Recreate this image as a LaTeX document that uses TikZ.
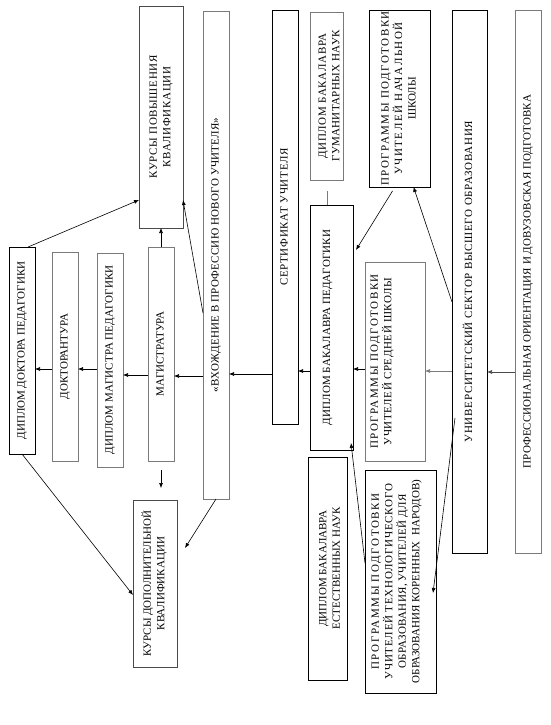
\documentclass[tikz,border=0pt]{standalone}
\usepackage{fontspec}
\usepackage{graphicx}
\setmainfont{Liberation Serif}
\usetikzlibrary{arrows.meta}
\definecolor{bgray}{HTML}{7A7A7A}
\definecolor{dgray}{HTML}{4A4A4A}
\newcommand{\vt}[1]{\rotatebox{90}{\begin{tabular}{@{}c@{}}#1\end{tabular}}}
\newcommand{\LS}[2]{{\addfontfeature{LetterSpace=#1}#2}}
\tikzset{
  box/.style={draw=black, line width=0.7pt, inner sep=0pt, outer sep=0pt, rectangle, align=center, font=\fontsize{11}{13.5}\selectfont},
  gbox/.style={box, draw=bgray},
  arr/.style={-{Latex[length=5pt,width=4pt]}, line width=0.6pt, black},
  ln/.style={line width=0.6pt}
}
\begin{document}
\begin{tikzpicture}[x=1pt,y=-1pt]
\useasboundingbox (0,0) rectangle (550,725);
% left group
\node[box, minimum width=26pt, minimum height=207pt] (doc) at (22,350.5) {\vt{ДИПЛОМ ДОКТОРА ПЕДАГОГИКИ}};
\node[gbox, minimum width=26pt, minimum height=209pt] (dokt) at (65,356.5) {\vt{ДОКТОРАНТУРА}};
\node[gbox, minimum width=26pt, minimum height=214pt] (mag) at (110,360) {\vt{\LS{1}{ДИПЛОМ МАГИСТРА ПЕДАГОГИКИ}}};
\node[gbox, minimum width=26pt, minimum height=214pt] (magtr) at (161,354) {\vt{МАГИСТРАТУРА}};
\node[box, draw=dgray, minimum width=44pt, minimum height=222pt] (kpk) at (161,117) {\vt{\LS{6}{КУРСЫ ПОВЫШЕНИЯ}\\\LS{6}{КВАЛИФИКАЦИИ}}};
\node[box, draw=dgray, minimum width=44pt, minimum height=167pt] (kdk) at (155,583.5) {\vt{КУРСЫ ДОПОЛНИТЕЛЬНОЙ\\КВАЛИФИКАЦИИ}};
\node[gbox, minimum width=26pt, minimum height=488pt] (vkh) at (216,255) {\vt{\LS{2.5}{«ВХОЖДЕНИЕ В ПРОФЕССИЮ НОВОГО УЧИТЕЛЯ»}}};
\node[box, minimum width=26pt, minimum height=414pt] (sert) at (285,217) {\vt{\LS{6.5}{СЕРТИФИКАТ УЧИТЕЛЯ}}};
% right group
\node[gbox, minimum width=32pt, minimum height=168pt] (gum) at (327,96) {\hspace{6pt}\vt{\LS{5.5}{ДИПЛОМ БАКАЛАВРА}\\\LS{3}{ГУМАНИТАРНЫХ НАУК}}};
\node[box, minimum width=61pt, minimum height=177pt] (nach) at (399.5,98.5) {\vt{\LS{14}{ПРОГРАММЫ ПОДГОТОВКИ}\\\LS{14}{УЧИТЕЛЕЙ НАЧАЛЬНОЙ}\\ШКОЛЫ}};
\node[box, minimum width=35pt, minimum height=543pt] (univ) at (469.5,281.5) {\vt{\LS{6.5}{УНИВЕРСИТЕТСКИЙ СЕКТОР ВЫСШЕГО ОБРАЗОВАНИЯ}}};
\node[gbox, minimum width=26pt, minimum height=543pt] (prof) at (528,281.5) {\vt{\LS{1}{ПРОФЕССИОНАЛЬНАЯ ОРИЕНТАЦИЯ И ДОВУЗОВСКАЯ ПОДГОТОВКА}}};
\node[box, minimum width=43pt, minimum height=245pt] (bped) at (331.5,327.5) {\vt{\LS{1}{ДИПЛОМ БАКАЛАВРА ПЕДАГОГИКИ}}\hspace{8pt}};
\node[gbox, minimum width=60pt, minimum height=199pt] (sred) at (395,361.5) {\vt{\LS{14}{ПРОГРАММЫ ПОДГОТОВКИ}\\\LS{5}{УЧИТЕЛЕЙ СРЕДНЕЙ ШКОЛЫ}}\hspace{26pt}};
\node[box, minimum width=39pt, minimum height=223pt] (est) at (327.5,568.5) {\hspace{6pt}\vt{ДИПЛОМ БАКАЛАВРА\\ЕСТЕСТВЕННЫХ НАУК}};
\node[box, minimum width=71pt, minimum height=223pt] (tekh) at (400.5,581.5) {\vt{\LS{15}{ПРОГРАММЫ ПОДГОТОВКИ}\\\LS{7}{УЧИТЕЛЕЙ ТЕХНОЛОГИЧЕСКОГО}\\\LS{3}{ОБРАЗОВАНИЯ, УЧИТЕЛЕЙ ДЛЯ}\\ОБРАЗОВАНИЯ КОРЕННЫХ \ НАРОДОВ)}\hspace{8pt}};
% free ends
\coordinate (mgEnd) at ([yshift=-9pt]magtr.south);
\coordinate (kdTop) at ([yshift=12pt]kdk.north -| mgEnd);
% horizontal chain
\draw[arr] (sert.west |- 0,374) -- (vkh.east |- 0,374);
\draw[arr] (vkh.west |- 0,376) -- (magtr.east |- 0,376);
\draw[arr] (magtr.west |- 0,375) -- (mag.east |- 0,375);
\draw[arr] (mag.west |- 0,369) -- (dokt.east |- 0,369);
\draw[arr] (dokt.west |- 0,369) -- (doc.east |- 0,369);
\draw[arr] (bped.west |- 0,371) -- (sert.east |- 0,371);
\draw[arr] (sred.west |- 0,369) -- (bped.east |- 0,369);
\draw[arr, draw=bgray] (univ.west |- 0,371) -- (sred.east |- 0,371);
\draw[arr, draw=dgray] (prof.west |- 0,372) -- (univ.east |- 0,372);
% to courses
\draw[arr] ([xshift=6pt]doc.north) -- (kpk.west |- 0,200);
\draw[arr] (magtr.north) -- (kpk.south);
\draw[arr] (vkh.west |- 0,313) -- (kpk.east |- 0,200);
\draw[arr] (mgEnd) -- (kdTop);
\draw[arr] (vkh.south) -- ([xshift=8pt]kdk.east |- 0,548);
\draw[arr] (doc.south) -- (kdk.west |- 0,595);
% right diagonals
\draw[arr] (univ.west |- 0,302) -- ([xshift=14pt]nach.south);
\draw[arr] ([xshift=-7pt,yshift=-4pt]nach.south) -- ([xshift=3pt]bped.north east |- 0,250);
\draw[ln, draw=bgray] ([yshift=-11pt]gum.south) -- (gum.south |- bped.north);
\draw[arr] ([xshift=3pt]univ.west |- 0,418) -- ([xshift=-3pt]tekh.east |- 0,593);
\draw[arr] (tekh.west |- 0,563) -- ([xshift=-2pt]bped.south east |- 0,443);
\end{tikzpicture}
\end{document}
